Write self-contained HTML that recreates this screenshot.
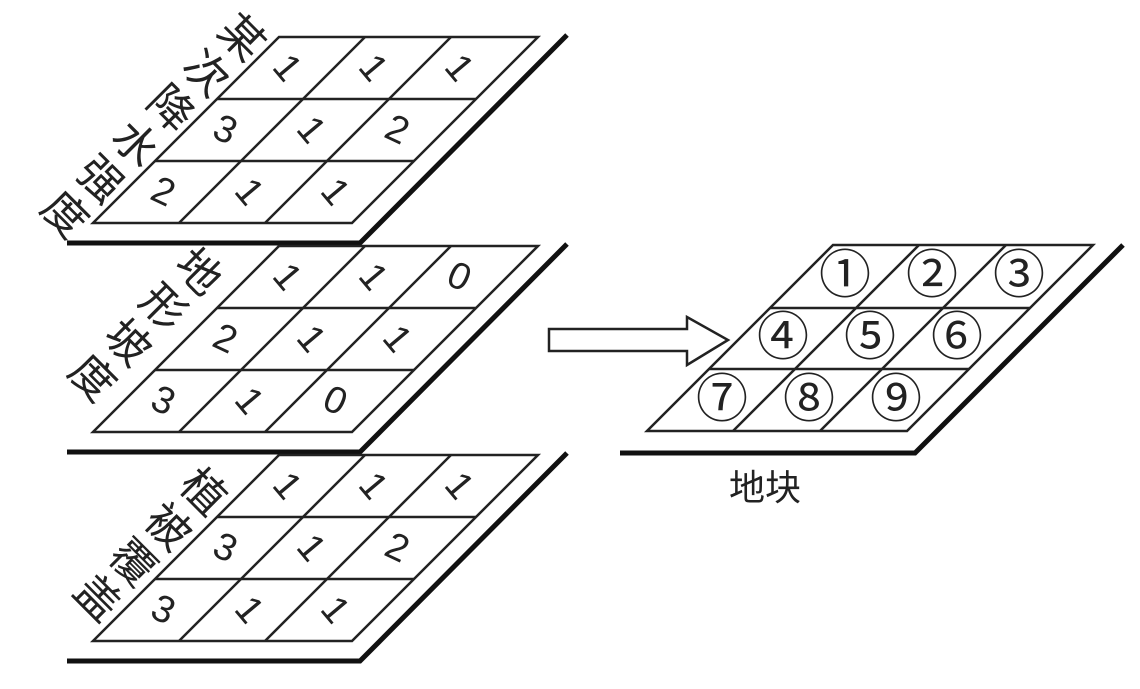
<!DOCTYPE html>
<html><head><meta charset="utf-8"><style>
html,body{margin:0;padding:0;background:#fff;}
svg{display:block;}
text{font-family:"Liberation Sans","Noto Sans CJK SC",sans-serif;fill:#222;}
.d{font-size:38px;text-anchor:middle;dominant-baseline:central;}
.v{writing-mode:vertical-rl;font-size:44px;letter-spacing:6px;text-anchor:start;}
.c{font-size:52px;text-anchor:middle;dominant-baseline:central;}
</style></head><body>
<svg width="1140" height="689" viewBox="0 0 1140 689" xmlns="http://www.w3.org/2000/svg">
<defs>
<g id="layer">
  <polygon points="279,37 538,37 352,223 93,223" fill="none" stroke="#222" stroke-width="2.5"/>
  <line x1="217" y1="99" x2="476" y2="99" stroke="#222" stroke-width="2.5"/>
  <line x1="155" y1="161" x2="414" y2="161" stroke="#222" stroke-width="2.5"/>
  <line x1="365" y1="37" x2="179" y2="223" stroke="#222" stroke-width="2.5"/>
  <line x1="451" y1="37" x2="265" y2="223" stroke="#222" stroke-width="2.5"/>
  <polyline points="67,243 360,243 567,35" fill="none" stroke="#111" stroke-width="5"/>
</g>
</defs>

<!-- layer 1 -->
<use href="#layer"/>
<text class="d" transform="translate(287,68) rotate(50)">1</text>
<text class="d" transform="translate(373,68) rotate(50)">1</text>
<text class="d" transform="translate(459,68) rotate(50)">1</text>
<text class="d" transform="translate(225,130) rotate(25)">3</text>
<text class="d" transform="translate(311,130) rotate(50)">1</text>
<text class="d" transform="translate(397,130) rotate(25)">2</text>
<text class="d" transform="translate(163,192) rotate(25)">2</text>
<text class="d" transform="translate(249,192) rotate(50)">1</text>
<text class="d" transform="translate(335,192) rotate(50)">1</text>
<text class="v" transform="translate(255,18) rotate(45)">某次降水强度</text>

<!-- layer 2 -->
<g transform="translate(0,209)">
<use href="#layer"/>
<text class="d" transform="translate(287,68) rotate(50)">1</text>
<text class="d" transform="translate(373,68) rotate(50)">1</text>
<text class="d" transform="translate(459,68) rotate(25)">0</text>
<text class="d" transform="translate(225,130) rotate(25)">2</text>
<text class="d" transform="translate(311,130) rotate(50)">1</text>
<text class="d" transform="translate(397,130) rotate(50)">1</text>
<text class="d" transform="translate(163,192) rotate(25)">3</text>
<text class="d" transform="translate(249,192) rotate(50)">1</text>
<text class="d" transform="translate(335,192) rotate(25)">0</text>
</g>
<text class="v" transform="translate(212,252) rotate(45)">地形坡度</text>

<!-- layer 3 -->
<g transform="translate(0,418)">
<use href="#layer"/>
<text class="d" transform="translate(287,68) rotate(50)">1</text>
<text class="d" transform="translate(373,68) rotate(50)">1</text>
<text class="d" transform="translate(459,68) rotate(50)">1</text>
<text class="d" transform="translate(225,130) rotate(25)">3</text>
<text class="d" transform="translate(311,130) rotate(50)">1</text>
<text class="d" transform="translate(397,130) rotate(25)">2</text>
<text class="d" transform="translate(163,192) rotate(25)">3</text>
<text class="d" transform="translate(249,192) rotate(50)">1</text>
<text class="d" transform="translate(335,192) rotate(50)">1</text>
</g>
<text class="v" transform="translate(217,472) rotate(45)">植被覆盖</text>

<!-- arrow -->
<polygon points="549,329 687,329 687,317 728,340 687,365 687,351 549,351" fill="#fff" stroke="#222" stroke-width="2.5"/>

<!-- right layer -->
<polygon points="833,245 1093,245 907,431 647,431" fill="none" stroke="#222" stroke-width="2.5"/>
<line x1="770" y1="308" x2="1030" y2="308" stroke="#222" stroke-width="2.5"/>
<line x1="709" y1="369" x2="969" y2="369" stroke="#222" stroke-width="2.5"/>
<line x1="919" y1="245" x2="733" y2="431" stroke="#222" stroke-width="2.5"/>
<line x1="1006" y1="245" x2="820" y2="431" stroke="#222" stroke-width="2.5"/>
<polyline points="620,453 915,453 1123,245" fill="none" stroke="#111" stroke-width="5"/>
<text class="c" x="845" y="276">①</text>
<text class="c" x="932" y="276">②</text>
<text class="c" x="1019" y="276">③</text>
<text class="c" x="783" y="338">④</text>
<text class="c" x="870" y="338">⑤</text>
<text class="c" x="957" y="338">⑥</text>
<text class="c" x="722" y="400">⑦</text>
<text class="c" x="809" y="400">⑧</text>
<text class="c" x="896" y="400">⑨</text>
<text x="765" y="500" font-size="36" text-anchor="middle">地块</text>
</svg>
</body></html>
